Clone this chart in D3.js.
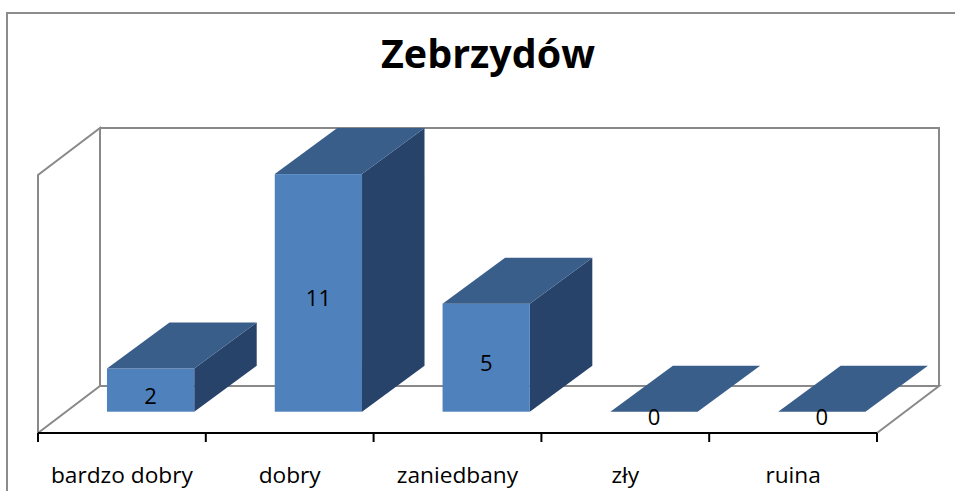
<!DOCTYPE html>
<html>
<head>
<meta charset="utf-8">
<script src="https://cdn.jsdelivr.net/npm/d3@7"></script>
<style>
  html, body { margin: 0; padding: 0; background: #fff; }
  svg { display: block; }
</style>
</head>
<body>
<svg id="chart" width="955" height="491"></svg>
<script>
// ---- data ----
const title = "Zebrzydów";
const categories = ["bardzo dobry", "dobry", "zaniedbany", "zły", "ruina"];
const values = [2, 11, 5, 0, 0];
const axisMax = 12;

// ---- layout ----
const W = 955, H = 491;
const svg = d3.select("#chart");
const FONT = "'Open Sans', Lato, 'Noto Sans', sans-serif";

const floorFront = 433;
const depth = { dx: 62, dy: -47 };
const barDepth = { dx: 62.5, dy: -46 };
const barBase = 411.7;

const x = d3.scaleBand().domain(categories).range([38, 877]).paddingInner(0).paddingOuter(0);
const h = d3.scaleLinear().domain([0, axisMax]).range([0, 258]);
const hBar = d3.scaleLinear().domain([0, axisMax]).range([0, 259.2]);

function fitWidth(sel, target) {
  const node = sel.node();
  const fs = parseFloat(sel.attr("font-size"));
  const w = node.getComputedTextLength();
  if (w > 0) sel.attr("font-size", fs * target / w);
  return parseFloat(sel.attr("font-size"));
}

// outer chart border
svg.append("rect")
  .attr("x", 7).attr("y", 13).attr("width", W + 20).attr("height", H + 20)
  .attr("fill", "none").attr("stroke", "#8c8c8c").attr("stroke-width", 2);

// title
const titleSel = svg.append("text")
  .attr("x", 488).attr("y", 68.3)
  .attr("text-anchor", "middle")
  .attr("font-family", FONT).attr("font-weight", "bold").attr("font-size", 35)
  .attr("fill", "#000")
  .text(title);
fitWidth(titleSel, 214);

// walls
const x0 = x.range()[0], x1 = x.range()[1];
const wallH = h(axisMax);
const backY = floorFront + depth.dy;
const wallColor = "#898989";
const walls = svg.append("g").attr("fill", "none").attr("stroke", wallColor).attr("stroke-width", 2);
walls.append("path").attr("d", d3.line()([
  [x0, floorFront], [x0, floorFront - wallH], [x0 + depth.dx, backY - wallH], [x0 + depth.dx, backY]
]));
walls.append("path").attr("d", d3.line()([
  [x0 + depth.dx, backY - wallH], [x1 + depth.dx, backY - wallH], [x1 + depth.dx, backY]
]));
walls.append("path").attr("d", d3.line()([
  [x0, floorFront], [x0 + depth.dx, backY], [x1 + depth.dx, backY], [x1, floorFront]
]));

// axis line and ticks
const axisG = svg.append("g").attr("stroke", "#000").attr("stroke-width", 2);
axisG.append("line").attr("x1", x0).attr("x2", x1).attr("y1", floorFront).attr("y2", floorFront);
const tickXs = categories.map(c => x(c)).concat([x1]);
axisG.selectAll("line.tick").data(tickXs).enter().append("line")
  .attr("class", "tick")
  .attr("x1", d => d).attr("x2", d => d)
  .attr("y1", floorFront).attr("y2", floorFront + 9);

// category labels
const catLabels = svg.append("g").selectAll("text").data(categories).enter().append("text")
  .attr("x", d => x(d) + x.bandwidth() / 2)
  .attr("y", 482.7)
  .attr("text-anchor", "middle")
  .attr("font-family", FONT).attr("font-size", 20)
  .attr("fill", "#000")
  .text(d => d);
const catFs = fitWidth(d3.select(catLabels.nodes()[0]), 142);
catLabels.attr("font-size", catFs);

// bars
const bw = x.bandwidth() * 0.52;
const boff = x.bandwidth() * 0.411;
const data = categories.map((c, i) => ({ c, v: values[i] }));
const bars = svg.append("g");
data.forEach(d => {
  const bx = x(d.c) + boff;
  const top = barBase - hBar(d.v);
  const g = bars.append("g");
  if (d.v > 0) {
    g.append("path").attr("fill", "#28436A").attr("d", d3.line()([
      [bx + bw, top], [bx + bw + barDepth.dx, top + barDepth.dy],
      [bx + bw + barDepth.dx, barBase + barDepth.dy], [bx + bw, barBase]
    ]) + "Z");
    g.append("rect").attr("x", bx).attr("y", top).attr("width", bw).attr("height", barBase - top)
      .attr("fill", "#4F81BD");
  }
  g.append("path").attr("fill", "#3A5E8A").attr("d", d3.line()([
    [bx, top], [bx + bw, top], [bx + bw + barDepth.dx, top + barDepth.dy], [bx + barDepth.dx, top + barDepth.dy]
  ]) + "Z");
  g.append("text")
    .attr("x", bx + bw / 2)
    .attr("y", (top + barBase) / 2 + 4.5)
    .attr("dominant-baseline", "central")
    .attr("text-anchor", "middle")
    .attr("font-family", FONT).attr("font-size", 22)
    .attr("fill", "#000")
    .text(d.v);
});
</script>
</body>
</html>
